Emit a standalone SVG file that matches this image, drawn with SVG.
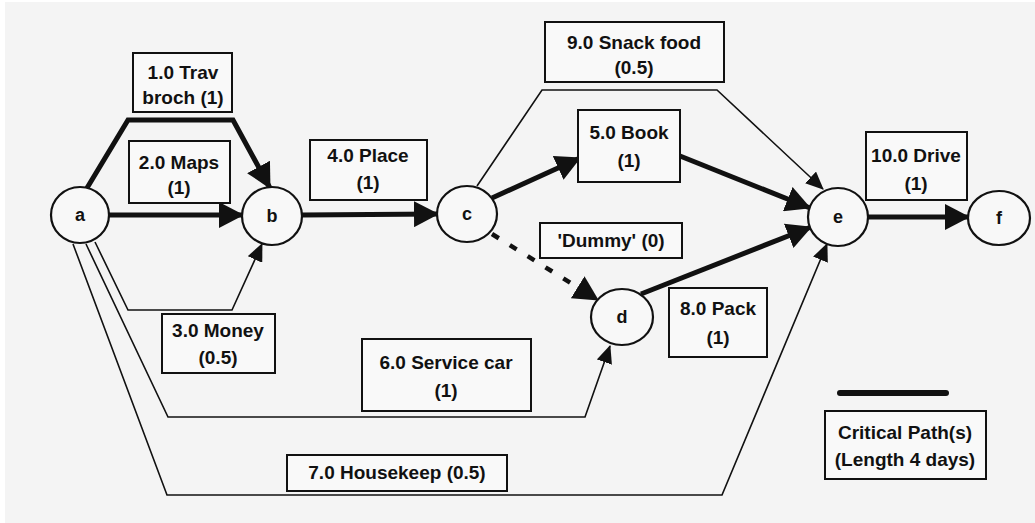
<svg xmlns="http://www.w3.org/2000/svg" width="1035" height="523" viewBox="0 0 1035 523">
  <defs>
    <marker id="headBig" markerUnits="userSpaceOnUse" markerWidth="25" markerHeight="26" refX="24" refY="13" orient="auto">
      <path d="M0,0 L25,13 L0,26 z" fill="#111"/>
    </marker>
    <marker id="headSmall" markerUnits="userSpaceOnUse" markerWidth="18" markerHeight="16" refX="17" refY="8" orient="auto">
      <path d="M0,0 L18,8 L0,16 z" fill="#111"/>
    </marker>
  </defs>
  <style>
    .bg { fill: #f4f4f4; }
    .node ellipse { fill: #f8f8f8; stroke: #111; stroke-width: 2.2; }
    .node text { font-family: "Liberation Sans", Arial, sans-serif; font-weight: bold; font-size: 18px; fill: #111; text-anchor: middle; }
    .label rect { fill: #f9f9f9; stroke: #111; stroke-width: 2; }
    .label text { font-family: "Liberation Sans", Arial, sans-serif; font-weight: bold; font-size: 19px; fill: #111; text-anchor: middle; }
    .crit { fill: none; stroke: #111; stroke-width: 5; stroke-linejoin: miter; marker-end: url(#headBig); }
    .thin { fill: none; stroke: #111; stroke-width: 1.6; marker-end: url(#headSmall); }
    .dummy { fill: none; stroke: #111; stroke-width: 4.5; stroke-dasharray: 8 13; marker-end: url(#headBig); }
  </style>

  <rect x="0" y="0" width="1035" height="523" fill="#ffffff"/>
  <rect class="bg" x="5" y="2" width="1030" height="521"/>

  <!-- activity arrows -->
  <g id="connectors">
    <polyline class="crit" points="87,188 128,120 233,120 270,188"/>
    <line class="crit" x1="109" y1="215" x2="243" y2="215"/>
    <polyline class="thin" points="95,242 128,310 232,310 262,244"/>
    <line class="crit" x1="302" y1="215" x2="438" y2="214"/>
    <line class="crit" x1="492" y1="198" x2="580" y2="158"/>
    <line class="crit" x1="680" y1="156" x2="810" y2="208"/>
    <polyline class="thin" points="477,186 542,90 717,90 823,189"/>
    <line class="dummy" x1="492" y1="234" x2="598" y2="300"/>
    <line class="crit" x1="641" y1="294" x2="811" y2="227"/>
    <polyline class="thin" points="86,244 168,417 585,417 610,346"/>
    <polyline class="thin" points="73,244 167,495 722,495 827,244"/>
    <line class="crit" x1="868" y1="217" x2="969" y2="217"/>
    <!-- legend sample of a critical-path line -->
    <line x1="840" y1="393" x2="946" y2="393" stroke="#111" stroke-width="6" stroke-linecap="round"/>
  </g>

  <!-- event nodes -->
  <g id="node-a" class="node"><ellipse cx="80" cy="215" rx="29" ry="28"/><text x="80" y="221">a</text></g>
  <g id="node-b" class="node"><ellipse cx="272" cy="216" rx="30" ry="29"/><text x="272" y="222">b</text></g>
  <g id="node-c" class="node"><ellipse cx="467" cy="214" rx="30" ry="28"/><text x="467" y="220">c</text></g>
  <g id="node-d" class="node"><ellipse cx="622" cy="317" rx="31" ry="28"/><text x="622" y="323">d</text></g>
  <g id="node-e" class="node"><ellipse cx="838" cy="217" rx="30" ry="29"/><text x="838" y="223">e</text></g>
  <g id="node-f" class="node"><ellipse cx="999" cy="218" rx="31" ry="27"/><text x="999" y="224">f</text></g>

  <!-- activity labels -->
  <g id="act-1" class="label"><rect x="133" y="53" width="99" height="59"/><text x="183" y="79">1.0 Trav</text><text x="183" y="104">broch (1)</text></g>
  <g id="act-2" class="label"><rect x="129" y="141" width="101" height="62"/><text x="179" y="169">2.0 Maps</text><text x="179" y="194">(1)</text></g>
  <g id="act-3" class="label"><rect x="162" y="314" width="113" height="59"/><text x="218" y="337">3.0 Money</text><text x="218" y="364">(0.5)</text></g>
  <g id="act-4" class="label"><rect x="310" y="140" width="117" height="60"/><text x="368" y="162">4.0 Place</text><text x="368" y="189">(1)</text></g>
  <g id="act-5" class="label"><rect x="578" y="110" width="102" height="72"/><text x="629" y="139">5.0 Book</text><text x="629" y="167">(1)</text></g>
  <g id="act-6" class="label"><rect x="362" y="339" width="169" height="72"/><text x="446" y="369">6.0 Service car</text><text x="446" y="397">(1)</text></g>
  <g id="act-7" class="label"><rect x="287" y="455" width="220" height="36"/><text x="397" y="479">7.0 Housekeep (0.5)</text></g>
  <g id="act-8" class="label"><rect x="669" y="288" width="98" height="69"/><text x="718" y="315">8.0 Pack</text><text x="718" y="344">(1)</text></g>
  <g id="act-9" class="label"><rect x="545" y="22" width="179" height="60"/><text x="634" y="49">9.0 Snack food</text><text x="634" y="74">(0.5)</text></g>
  <g id="act-10" class="label"><rect x="866" y="132" width="101" height="68"/><text x="916" y="162">10.0 Drive</text><text x="916" y="190">(1)</text></g>
  <g id="act-dummy" class="label"><rect x="540" y="223" width="142" height="35"/><text x="611" y="247">'Dummy' (0)</text></g>

  <!-- legend -->
  <g id="legend" class="label"><rect x="825" y="411" width="161" height="68"/><text x="905" y="439">Critical Path(s)</text><text x="905" y="466">(Length 4 days)</text></g>
</svg>
